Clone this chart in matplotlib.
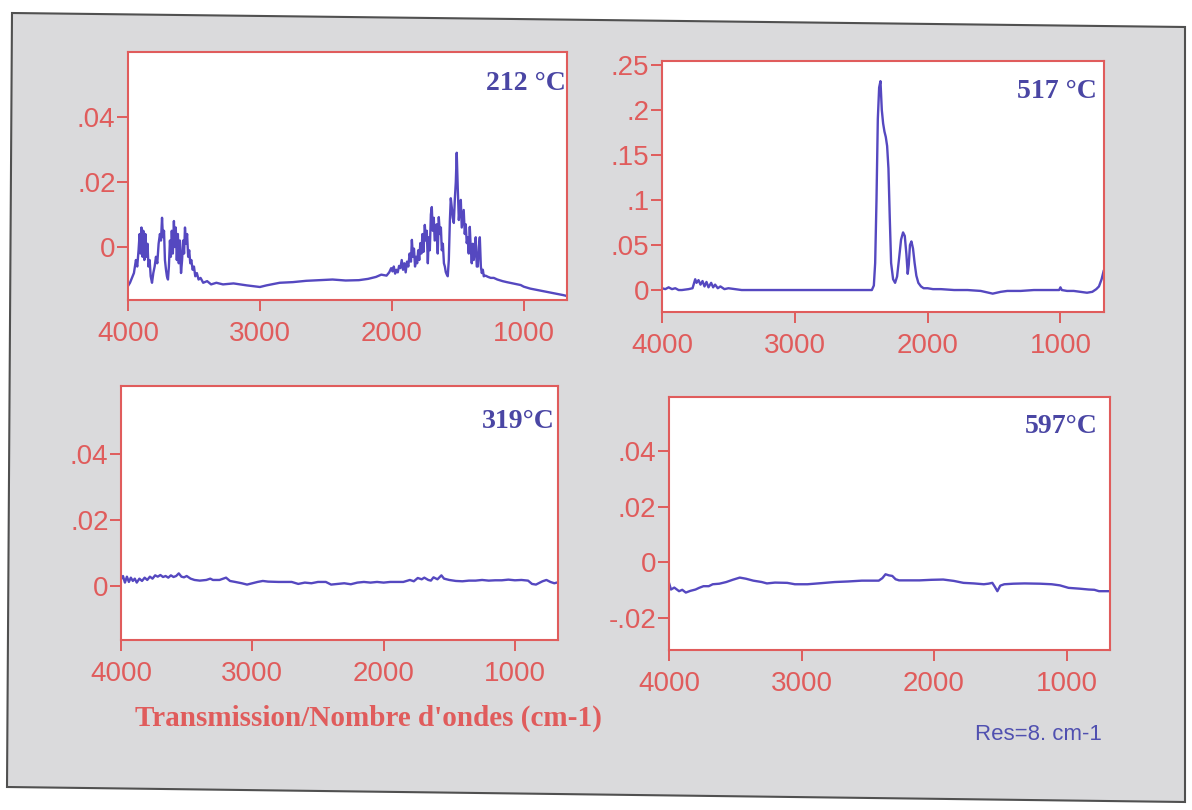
import matplotlib
matplotlib.use("Agg")
import matplotlib.pyplot as plt
from matplotlib.patches import Polygon

# ---- data ----
wn_212 = [4000, 3985, 3970, 3955, 3940, 3930, 3920, 3912, 3905, 3898, 3890, 3884, 3876, 3868,
          3860, 3852, 3845, 3836, 3828, 3818, 3808, 3798, 3788, 3778, 3768, 3758, 3750, 3742,
          3735, 3727, 3720, 3712, 3705, 3697, 3690, 3682, 3675, 3668, 3660, 3652, 3645, 3638,
          3630, 3622, 3615, 3607, 3598, 3590, 3582, 3575, 3568, 3560, 3552, 3544, 3536, 3528,
          3520, 3510, 3500, 3490, 3478, 3465, 3450, 3430, 3400, 3370, 3330, 3280, 3200, 3100,
          3000, 2950, 2850, 2750, 2650, 2550, 2450, 2350, 2250, 2180, 2120, 2080, 2040, 2020,
          2005, 1995, 1985, 1975, 1965, 1955, 1945, 1935, 1925, 1915, 1905, 1895, 1885, 1875,
          1865, 1855, 1848, 1840, 1832, 1824, 1816, 1808, 1800, 1792, 1784, 1776, 1768, 1760,
          1750, 1742, 1735, 1727, 1720, 1712, 1704, 1697, 1690, 1682, 1675, 1667, 1660, 1652,
          1644, 1636, 1628, 1621, 1613, 1605, 1598, 1591, 1583, 1576, 1568, 1560, 1553, 1545,
          1538, 1530, 1522, 1515, 1508, 1500, 1492, 1485, 1477, 1470, 1462, 1455, 1447, 1440,
          1432, 1425, 1417, 1409, 1402, 1394, 1386, 1379, 1371, 1364, 1356, 1348, 1340, 1333,
          1325, 1318, 1310, 1303, 1290, 1270, 1250, 1227, 1200, 1160, 1129, 1080, 1023, 1000,
          950, 900, 850, 800, 750, 700, 680]
abs_212 = [-0.012, -0.011, -0.0095, -0.008, -0.004, -0.006, -0.001, 0.004, -0.002, 0.006, -0.003,
           0.005, -0.004, 0.004, -0.003, 0.001, -0.006, -0.004, -0.009, -0.011, -0.008, -0.006,
           -0.003, -0.005, 0.001, 0.004, 0.002, 0.009, 0.003, 0.005, -0.004, -0.007, -0.009,
           -0.010, -0.006, 0.002, -0.003, 0.005, -0.002, 0.008, 0.0, 0.006, -0.004, 0.004,
           -0.005, 0.002, -0.008, -0.004, 0.002, -0.002, 0.006, 0.001, 0.004, -0.003, -0.001,
           -0.005, -0.004, -0.007, -0.006, -0.009, -0.008, -0.010, -0.0095, -0.011, -0.0105,
           -0.0115, -0.011, -0.0115, -0.0112, -0.0118, -0.0123, -0.0118, -0.011, -0.0108,
           -0.0104, -0.0102, -0.0100, -0.0103, -0.0102, -0.0098, -0.0092, -0.0085, -0.0088,
           -0.0078, -0.0065, -0.0075, -0.0060, -0.0082, -0.0070, -0.0078, -0.0058, -0.0065,
           -0.0040, -0.0070, -0.0050, -0.0078, -0.0045, -0.0060, -0.0020, -0.0045, 0.0022,
           -0.0030, -0.0005, -0.0060, -0.0030, -0.0050, -0.0010, -0.0040, 0.0012, -0.0020,
           0.0040, -0.0015, 0.0068, 0.0020, 0.0050, -0.0050, 0.0030, -0.0010, 0.0100, 0.0123,
           0.0050, 0.0090, 0.0020, 0.0022, 0.0070, -0.0020, 0.0092, 0.0040, 0.0060, -0.0010,
           0.0010, -0.0050, -0.0060, -0.0077, -0.0085, -0.0090, -0.0040, 0.0080, 0.0150,
           0.0120, 0.0090, 0.0074, 0.0150, 0.0200, 0.0290, 0.0180, 0.0083, 0.0120, 0.0145,
           0.0060, 0.0090, 0.0114, 0.0040, 0.0070, 0.0012, 0.0030, -0.0020, 0.0062, 0.0000,
           -0.0050, 0.0010, -0.0040, -0.0010, 0.0030, -0.0060, -0.0060, 0.0000, 0.0030,
           -0.0060, -0.0080, -0.0070, -0.0090, -0.0088, -0.0092, -0.0095, -0.0095, -0.0100,
           -0.0105, -0.0108, -0.0112, -0.0117, -0.0122, -0.0128, -0.0132, -0.0136, -0.0140,
           -0.0144, -0.0148, -0.0150]

wn_517 = [4000, 3975, 3950, 3925, 3900, 3875, 3850, 3800, 3770, 3750, 3740, 3725, 3710, 3695,
          3680, 3665, 3650, 3630, 3615, 3600, 3580, 3560, 3530, 3500, 3400, 3200, 3000, 2800,
          2600, 2420, 2405, 2395, 2385, 2375, 2365, 2355, 2345, 2335, 2325, 2315, 2305, 2295,
          2285, 2275, 2260, 2245, 2230, 2215, 2200, 2185, 2172, 2160, 2150, 2142, 2133, 2122,
          2110, 2098, 2085, 2070, 2050, 2030, 2000, 1960, 1900, 1800, 1700, 1600, 1540, 1510,
          1480, 1450, 1400, 1300, 1200, 1100, 1010, 1000, 990, 950, 900, 850, 800, 760, 730,
          710, 690, 675]
abs_517 = [0.002, 0.001, 0.003, 0.001, 0.002, 0.0, 0.0, 0.001, 0.002, 0.012, 0.008, 0.011,
           0.006, 0.010, 0.004, 0.009, 0.003, 0.008, 0.003, 0.006, 0.002, 0.004, 0.001, 0.002,
           0.0, 0.0, 0.0, 0.0, 0.0, 0.0, 0.005, 0.03, 0.10, 0.19, 0.225, 0.232, 0.20, 0.185,
           0.176, 0.170, 0.160, 0.135, 0.08, 0.030, 0.012, 0.008, 0.015, 0.035, 0.056, 0.064,
           0.060, 0.040, 0.018, 0.028, 0.050, 0.054, 0.046, 0.030, 0.016, 0.008, 0.004, 0.002,
           0.002, 0.001, 0.001, 0.0, 0.0, -0.001, -0.003, -0.004, -0.003, -0.002, -0.001, -0.001,
           0.0, 0.0, 0.0, 0.003, 0.0, -0.001, -0.001, -0.002, -0.003, -0.002, 0.001, 0.004,
           0.012, 0.021]

wn_319 = [4000, 3985, 3970, 3955, 3940, 3925, 3910, 3895, 3880, 3860, 3840, 3820, 3800, 3780,
          3760, 3740, 3720, 3700, 3680, 3660, 3640, 3620, 3600, 3580, 3560, 3540, 3520, 3500,
          3470, 3440, 3400, 3350, 3320, 3300, 3250, 3200, 3170, 3130, 3080, 3040, 3000, 2960,
          2920, 2880, 2800, 2700, 2650, 2600, 2550, 2500, 2440, 2400, 2350, 2300, 2250, 2200,
          2150, 2100, 2050, 2000, 1950, 1900, 1850, 1800, 1770, 1740, 1710, 1690, 1660, 1640,
          1620, 1590, 1560, 1540, 1500, 1450, 1400, 1350, 1300, 1250, 1200, 1150, 1100, 1050,
          1000, 950, 900, 870, 840, 810, 790, 760, 730, 700, 681]
abs_319 = [0.002, 0.003, 0.001, 0.0028, 0.0012, 0.0025, 0.0015, 0.0022, 0.001, 0.0022, 0.0015,
           0.0025, 0.0018, 0.0028, 0.0022, 0.0032, 0.0028, 0.0033, 0.0027, 0.0030, 0.0025,
           0.0032, 0.0027, 0.0030, 0.0038, 0.0028, 0.0026, 0.0030, 0.0022, 0.0018, 0.0016,
           0.0018, 0.0022, 0.0018, 0.0018, 0.0025, 0.0015, 0.0012, 0.0008, 0.0004, 0.0008,
           0.0012, 0.0015, 0.0013, 0.0012, 0.0012, 0.0006, 0.0010, 0.0008, 0.0012, 0.0012,
           0.0004, 0.0006, 0.0008, 0.0005, 0.0010, 0.0012, 0.0010, 0.0012, 0.0010, 0.0012,
           0.0012, 0.0012, 0.0018, 0.0014, 0.0024, 0.0020, 0.0025, 0.0018, 0.0016, 0.0026,
           0.0020, 0.0032, 0.0022, 0.0018, 0.0015, 0.0014, 0.0016, 0.0016, 0.0018, 0.0016,
           0.0017, 0.0017, 0.0019, 0.0017, 0.0018, 0.0016, 0.0006, 0.0004, 0.0010, 0.0014,
           0.0018, 0.0012, 0.0008, 0.0010]

wn_597 = [4000, 3985, 3960, 3924, 3900, 3873, 3840, 3800, 3773, 3740, 3700, 3670, 3620, 3568,
          3520, 3466, 3420, 3364, 3300, 3261, 3200, 3108, 3050, 2955, 2850, 2750, 2650, 2545,
          2417, 2390, 2366, 2340, 2315, 2290, 2264, 2200, 2110, 2020, 1931, 1850, 1778, 1700,
          1624, 1590, 1560, 1540, 1522, 1500, 1470, 1400, 1317, 1200, 1112, 1050, 985, 900,
          832, 790, 755, 700, 675]
abs_597 = [-0.0075, -0.0099, -0.0092, -0.0105, -0.0100, -0.0110, -0.0104, -0.0099, -0.0093,
           -0.0087, -0.0087, -0.0080, -0.0078, -0.0072, -0.0064, -0.0056, -0.0060, -0.0067,
           -0.0072, -0.0077, -0.0074, -0.0075, -0.0080, -0.0080, -0.0076, -0.0072, -0.0070,
           -0.0067, -0.0067, -0.0058, -0.0044, -0.0048, -0.0050, -0.0062, -0.0066, -0.0066,
           -0.0066, -0.0064, -0.0063, -0.0068, -0.0075, -0.0077, -0.0080, -0.0078, -0.0075,
           -0.0090, -0.0105, -0.0085, -0.0080, -0.0078, -0.0077, -0.0078, -0.0080, -0.0084,
           -0.0093, -0.0096, -0.0099, -0.0100, -0.0105, -0.0105, -0.0105]

titles = ["212 \u00b0C", "517 \u00b0C", "319\u00b0C", "597\u00b0C"]
x_ticks = [4000, 3000, 2000, 1000]
x_ticklabels = ["4000", "3000", "2000", "1000"]
y_ticks_small = [0.0, 0.02, 0.04]
y_ticklabels_small = ["0", ".02", ".04"]
y_ticks_517 = [0.0, 0.05, 0.10, 0.15, 0.20, 0.25]
y_ticklabels_517 = ["0", ".05", ".1", ".15", ".2", ".25"]
y_ticks_597 = [-0.02, 0.0, 0.02, 0.04]
y_ticklabels_597 = ["-.02", "0", ".02", ".04"]

red = "#e05c5c"
blue_line = "#5548c0"
blue_text = "#4a46a4"
W, H = 1192.0, 810.0


def box(l, t, r, b):
    return [l / W, 1 - b / H, (r - l) / W, (b - t) / H]


fig = plt.figure(figsize=(11.92, 8.10), dpi=100)
fig.patch.set_facecolor("white")

# scanned grey sheet
corners = [(12, 13), (1185, 27), (1185, 802), (7, 787)]
frame = Polygon([(x / W, 1 - y / H) for x, y in corners], closed=True,
                transform=fig.transFigure, facecolor="#dadadc", edgecolor="#505050",
                linewidth=1.5, zorder=-5)
fig.add_artist(frame)

panels = [
    (box(128, 52, 567, 300), wn_212, abs_212, (-0.0163, 0.060), y_ticks_small, y_ticklabels_small, (0.998, 0.875)),
    (box(662, 61, 1104, 312), wn_517, abs_517, (-0.0244, 0.2544), y_ticks_517, y_ticklabels_517, (0.985, 0.88)),
    (box(121, 386, 558, 640), wn_319, abs_319, (-0.0164, 0.0606), y_ticks_small, y_ticklabels_small, (0.993, 0.862)),
    (box(669, 397, 1110, 650), wn_597, abs_597, (-0.0317, 0.0595), y_ticks_597, y_ticklabels_597, (0.972, 0.885)),
]

for i, (rect, wn, ab, ylim, yt, ytl, tpos) in enumerate(panels):
    ax = fig.add_axes(rect)
    ax.set_facecolor("white")
    ax.plot(wn, ab, color=blue_line, lw=1.7)
    ax.set_xlim(4000, 672)
    ax.set_ylim(*ylim)
    ax.set_xticks(x_ticks)
    ax.set_xticklabels(x_ticklabels)
    ax.set_yticks(yt)
    ax.set_yticklabels(ytl)
    for s in ax.spines.values():
        s.set_color(red)
        s.set_linewidth(1.5)
    ax.tick_params(axis="both", colors=red, length=8, width=1.4, labelsize=20, direction="out")
    ax.tick_params(axis="x", pad=7)
    ax.tick_params(axis="y", pad=1)
    for lab in ax.get_xticklabels() + ax.get_yticklabels():
        lab.set_family("Liberation Sans")
    ax.text(tpos[0], tpos[1], titles[i], transform=ax.transAxes, ha="right", va="center",
            fontsize=20, fontweight="bold", family="Liberation Serif", color=blue_text)

fig.text(368 / W, 1 - 718 / H, "Transmission/Nombre d'ondes (cm-1)", ha="center", va="center",
         fontsize=21, fontweight="bold", family="Liberation Serif", color=red)
fig.text(975 / W, 1 - 735 / H, "Res=8. cm-1", ha="left", va="center",
         fontsize=16, family="Liberation Sans", color="#5050b0")

fig.savefig("out.png", dpi=100, facecolor="white")
